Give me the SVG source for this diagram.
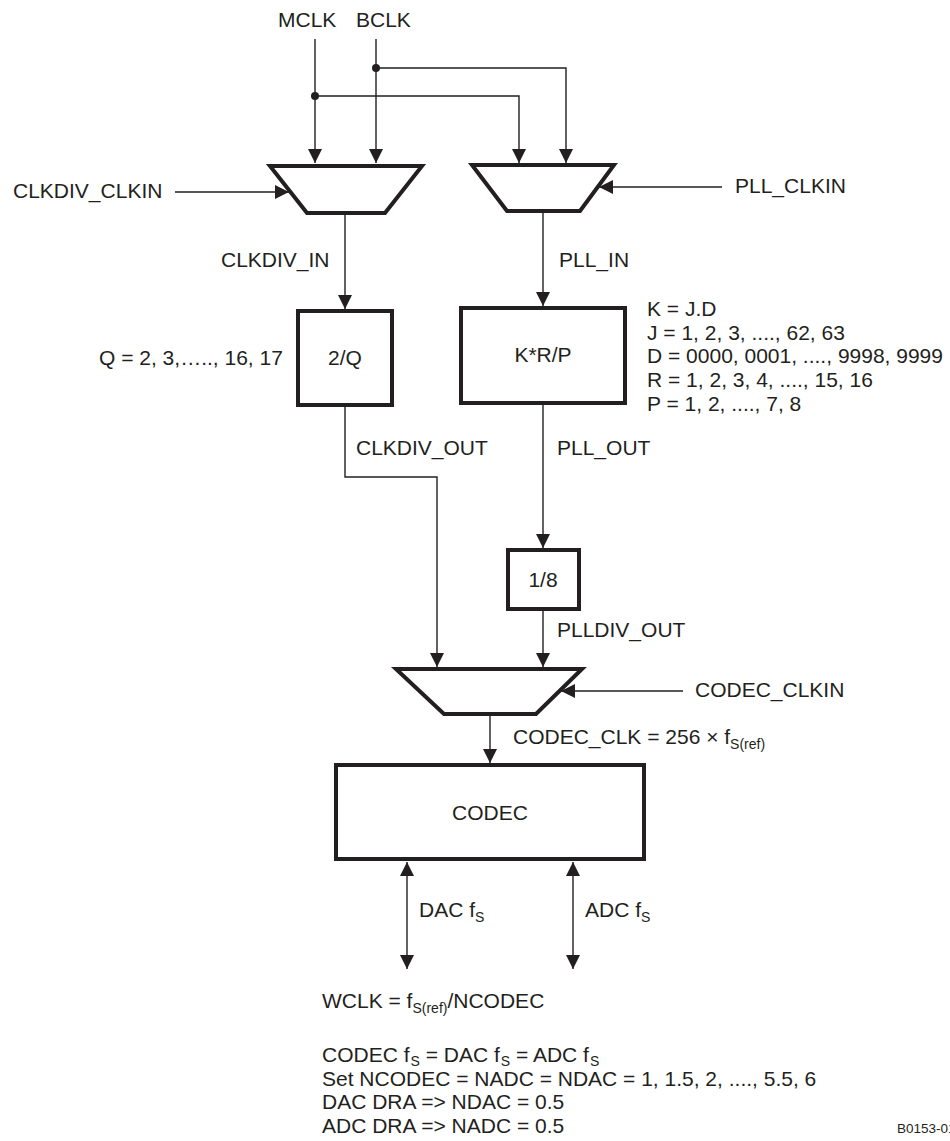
<svg xmlns="http://www.w3.org/2000/svg" width="950" height="1141" viewBox="0 0 950 1141">
<style>
text{font-family:"Liberation Sans",Arial,sans-serif;font-size:21px;fill:#231f20}
.c{text-anchor:middle}
.sub{font-size:14px}
.thick{fill:#fff;stroke:#231f20;stroke-width:4;stroke-linejoin:miter}
.wire{fill:none;stroke:#231f20;stroke-width:1.4}
.small{font-size:13.5px}
</style>
<defs>
<marker id="ah" markerUnits="userSpaceOnUse" markerWidth="14" markerHeight="14" viewBox="0 0 14 14" refX="14" refY="7" orient="auto">
<path d="M0,0 L14,7 L0,14 Z" fill="#231f20"/>
</marker>
<marker id="as" markerUnits="userSpaceOnUse" markerWidth="14" markerHeight="14" viewBox="0 0 14 14" refX="0" refY="7" orient="auto">
<path d="M14,0 L0,7 L14,14 Z" fill="#231f20"/>
</marker>
</defs>
<rect width="950" height="1141" fill="#fff"/>

<g id="connectors">
<path class="wire" d="M315,39 V163" marker-end="url(#ah)"/>
<path class="wire" d="M376,39 V163" marker-end="url(#ah)"/>
<path class="wire" d="M315,96 H519 V163" marker-end="url(#ah)"/>
<path class="wire" d="M376,68 H566 V163" marker-end="url(#ah)"/>
<circle cx="315" cy="96" r="4" fill="#231f20"/>
<circle cx="376" cy="68" r="4" fill="#231f20"/>
<path class="wire" d="M175,192 H289" marker-end="url(#ah)"/>
<path class="wire" d="M722,187 H599" marker-end="url(#ah)"/>
<path class="wire" d="M345,215 V309" marker-end="url(#ah)"/>
<path class="wire" d="M543,213 V306" marker-end="url(#ah)"/>
<path class="wire" d="M345,407 V477 H437 V667" marker-end="url(#ah)"/>
<path class="wire" d="M543,405 V548" marker-end="url(#ah)"/>
<path class="wire" d="M543,611 V667" marker-end="url(#ah)"/>
<path class="wire" d="M683,691 H561" marker-end="url(#ah)"/>
<path class="wire" d="M490,716 V763" marker-end="url(#ah)"/>
<path class="wire" d="M407,862 V969" marker-start="url(#as)" marker-end="url(#ah)"/>
<path class="wire" d="M573,862 V969" marker-start="url(#as)" marker-end="url(#ah)"/>
</g>

<g id="inputs">
<text x="278" y="27">MCLK</text>
<text x="356" y="27">BCLK</text>
<text x="13" y="198">CLKDIV_CLKIN</text>
<text x="735" y="193">PLL_CLKIN</text>
<text x="695" y="697">CODEC_CLKIN</text>
</g>

<g id="mux-clkdiv">
<polygon class="thick" points="270,166 422,166 385,213 307,213"/>
</g>
<g id="mux-pll">
<polygon class="thick" points="472,165 614,165 580,211 507,211"/>
</g>

<g id="labels">
<text x="221" y="267">CLKDIV_IN</text>
<text x="559" y="267">PLL_IN</text>
<text x="356" y="455">CLKDIV_OUT</text>
<text x="557" y="455">PLL_OUT</text>
<text x="557" y="637">PLLDIV_OUT</text>
<text x="513" y="744">CODEC_CLK = 256 × f<tspan class="sub" dy="5">S(ref)</tspan></text>
<text x="419" y="917">DAC f<tspan class="sub" dy="5">S</tspan></text>
<text x="585" y="917">ADC f<tspan class="sub" dy="5">S</tspan></text>
</g>

<g id="div-q">
<rect class="thick" x="298" y="311" width="94" height="94"/>
<text class="c" x="345" y="365">2/Q</text>
<text x="99" y="365">Q = 2, 3,….., 16, 17</text>
</g>

<g id="pll">
<rect class="thick" x="461" y="308" width="164" height="95"/>
<text class="c" x="543" y="362">K*R/P</text>
<text x="647" y="316">K = J.D</text>
<text x="647" y="340">J = 1, 2, 3, ...., 62, 63</text>
<text x="647" y="363">D = 0000, 0001, ...., 9998, 9999</text>
<text x="647" y="387">R = 1, 2, 3, 4, ...., 15, 16</text>
<text x="647" y="411">P = 1, 2, ...., 7, 8</text>
</g>

<g id="div-8">
<rect class="thick" x="508" y="550" width="71" height="59"/>
<text class="c" x="543" y="587">1/8</text>
</g>

<g id="mux-codec">
<polygon class="thick" points="396,669 582,669 536,714 444,714"/>
</g>

<g id="codec">
<rect class="thick" x="336" y="765" width="308" height="94"/>
<text class="c" x="490" y="820">CODEC</text>
</g>

<g id="notes">
<text x="322" y="1008">WCLK = f<tspan class="sub" dy="5">S(ref)</tspan><tspan dy="-5">/NCODEC</tspan></text>
<text x="322" y="1062">CODEC f<tspan class="sub" dx="1" dy="4">S</tspan><tspan dy="-4"> = DAC f</tspan><tspan class="sub" dx="1" dy="4">S</tspan><tspan dy="-4"> = ADC f</tspan><tspan class="sub" dx="1" dy="4">S</tspan></text>
<text x="322" y="1085.5">Set NCODEC = NADC = NDAC = 1, 1.5, 2, ...., 5.5, 6</text>
<text x="322" y="1109">DAC DRA =&gt; NDAC = 0.5</text>
<text x="322" y="1133">ADC DRA =&gt; NADC = 0.5</text>
<text class="small" x="897" y="1133">B0153-01</text>
</g>
</svg>
